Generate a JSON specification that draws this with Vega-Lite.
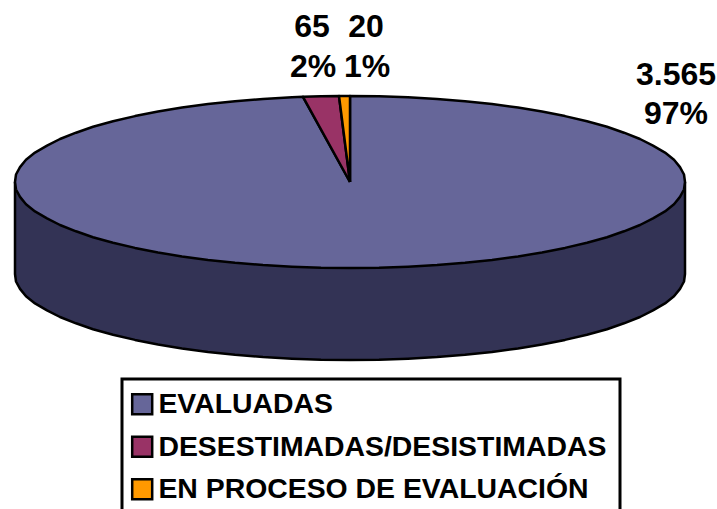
{"$schema":"https://vega.github.io/schema/vega-lite/v6.json","width":717,"height":509,"padding":0,"autosize":{"type":"none"},"background":"white","view":{"stroke":null},
"datasets":{
"side":[{"x":15,"y":182},{"x":15,"y":274},{"x":16,"y":281.5},{"x":20,"y":288.9},{"x":26,"y":296.3},{"x":35,"y":303.4},{"x":47,"y":310.3},{"x":60,"y":317},{"x":76,"y":323.3},{"x":93,"y":329.3},{"x":113,"y":334.8},{"x":135,"y":339.9},{"x":158,"y":344.4},{"x":182,"y":348.5},{"x":208,"y":351.9},{"x":235,"y":354.8},{"x":263,"y":357.1},{"x":292,"y":358.7},{"x":321,"y":359.7},{"x":350,"y":360},{"x":379,"y":359.7},{"x":408,"y":358.7},{"x":437,"y":357.1},{"x":465,"y":354.8},{"x":492,"y":351.9},{"x":518,"y":348.5},{"x":542,"y":344.4},{"x":565,"y":339.9},{"x":587,"y":334.8},{"x":607,"y":329.3},{"x":624,"y":323.3},{"x":640,"y":317},{"x":653,"y":310.3},{"x":665,"y":303.4},{"x":674,"y":296.3},{"x":680,"y":288.9},{"x":684,"y":281.5},{"x":685,"y":274},{"x":685,"y":182}],
"top":[
{"c":"EVALUADAS","x":350,"y":182},{"c":"EVALUADAS","x":350,"y":96},{"c":"EVALUADAS","x":379,"y":96.3},{"c":"EVALUADAS","x":408,"y":97.3},{"c":"EVALUADAS","x":437,"y":98.9},{"c":"EVALUADAS","x":465,"y":101.2},{"c":"EVALUADAS","x":492,"y":104.1},{"c":"EVALUADAS","x":518,"y":107.5},{"c":"EVALUADAS","x":542,"y":111.6},{"c":"EVALUADAS","x":565,"y":116.1},{"c":"EVALUADAS","x":587,"y":121.2},{"c":"EVALUADAS","x":607,"y":126.7},{"c":"EVALUADAS","x":624,"y":132.7},{"c":"EVALUADAS","x":640,"y":139},{"c":"EVALUADAS","x":653,"y":145.7},{"c":"EVALUADAS","x":665,"y":152.6},{"c":"EVALUADAS","x":674,"y":159.7},{"c":"EVALUADAS","x":680,"y":167.1},{"c":"EVALUADAS","x":684,"y":174.5},{"c":"EVALUADAS","x":685,"y":182},{"c":"EVALUADAS","x":684,"y":189.5},{"c":"EVALUADAS","x":680,"y":196.9},{"c":"EVALUADAS","x":674,"y":204.3},{"c":"EVALUADAS","x":665,"y":211.4},{"c":"EVALUADAS","x":653,"y":218.3},{"c":"EVALUADAS","x":640,"y":225},{"c":"EVALUADAS","x":624,"y":231.3},{"c":"EVALUADAS","x":607,"y":237.3},{"c":"EVALUADAS","x":587,"y":242.8},{"c":"EVALUADAS","x":565,"y":247.9},{"c":"EVALUADAS","x":542,"y":252.4},{"c":"EVALUADAS","x":518,"y":256.5},{"c":"EVALUADAS","x":492,"y":259.9},{"c":"EVALUADAS","x":465,"y":262.8},{"c":"EVALUADAS","x":437,"y":265.1},{"c":"EVALUADAS","x":408,"y":266.7},{"c":"EVALUADAS","x":379,"y":267.7},{"c":"EVALUADAS","x":350,"y":268},{"c":"EVALUADAS","x":321,"y":267.7},{"c":"EVALUADAS","x":292,"y":266.7},{"c":"EVALUADAS","x":263,"y":265.1},{"c":"EVALUADAS","x":235,"y":262.8},{"c":"EVALUADAS","x":208,"y":259.9},{"c":"EVALUADAS","x":182,"y":256.5},{"c":"EVALUADAS","x":158,"y":252.4},{"c":"EVALUADAS","x":135,"y":247.9},{"c":"EVALUADAS","x":113,"y":242.8},{"c":"EVALUADAS","x":93,"y":237.3},{"c":"EVALUADAS","x":76,"y":231.3},{"c":"EVALUADAS","x":60,"y":225},{"c":"EVALUADAS","x":47,"y":218.3},{"c":"EVALUADAS","x":35,"y":211.4},{"c":"EVALUADAS","x":26,"y":204.3},{"c":"EVALUADAS","x":20,"y":196.9},{"c":"EVALUADAS","x":16,"y":189.5},{"c":"EVALUADAS","x":15,"y":182},{"c":"EVALUADAS","x":16,"y":174.5},{"c":"EVALUADAS","x":20,"y":167.1},{"c":"EVALUADAS","x":26,"y":159.7},{"c":"EVALUADAS","x":35,"y":152.6},{"c":"EVALUADAS","x":47,"y":145.7},{"c":"EVALUADAS","x":60,"y":139},{"c":"EVALUADAS","x":76,"y":132.7},{"c":"EVALUADAS","x":93,"y":126.7},{"c":"EVALUADAS","x":113,"y":121.2},{"c":"EVALUADAS","x":135,"y":116.1},{"c":"EVALUADAS","x":158,"y":111.6},{"c":"EVALUADAS","x":182,"y":107.5},{"c":"EVALUADAS","x":208,"y":104.1},{"c":"EVALUADAS","x":235,"y":101.2},{"c":"EVALUADAS","x":263,"y":98.9},{"c":"EVALUADAS","x":292,"y":97.3},{"c":"EVALUADAS","x":303,"y":96.8},{"c":"EVALUADAS","x":350,"y":182},
{"c":"DESESTIMADAS/DESISTIMADAS","x":350,"y":182},{"c":"DESESTIMADAS/DESISTIMADAS","x":303,"y":96.8},{"c":"DESESTIMADAS/DESISTIMADAS","x":321,"y":96.3},{"c":"DESESTIMADAS/DESISTIMADAS","x":339,"y":96},{"c":"DESESTIMADAS/DESISTIMADAS","x":350,"y":182},
{"c":"EN PROCESO DE EVALUACIÓN","x":350,"y":182},{"c":"EN PROCESO DE EVALUACIÓN","x":339,"y":96},{"c":"EN PROCESO DE EVALUACIÓN","x":350,"y":96},{"c":"EN PROCESO DE EVALUACIÓN","x":350,"y":182}
],
"labels":[{"t":"3.565","x":676,"y":75},{"t":"97%","x":676,"y":114},{"t":"65","x":312,"y":27},{"t":"2%","x":313,"y":67},{"t":"20","x":366,"y":27},{"t":"1%","x":367,"y":67}],
"box":[{"x":122,"x2":620,"y":379,"y2":515}]
},
"layer":[
{"data":{"name":"box"},"mark":{"type":"rect","fill":"white","stroke":"black","strokeWidth":3},"encoding":{"x":{"field":"x","type":"quantitative","scale":{"domain":[0,717]},"axis":null},"x2":{"field":"x2"},"y":{"field":"y","type":"quantitative","scale":{"domain":[509,0]},"axis":null},"y2":{"field":"y2"}}},
{"data":{"name":"side"},"mark":{"type":"line","fill":"#333355","stroke":"black","strokeWidth":2.5,"strokeJoin":"round"},"encoding":{"x":{"field":"x","type":"quantitative","scale":{"domain":[0,717]},"axis":null},"y":{"field":"y","type":"quantitative","scale":{"domain":[509,0]},"axis":null},"order":{"value":null}}},
{"data":{"name":"top"},"mark":{"type":"line","stroke":"black","strokeWidth":2.5,"strokeJoin":"round"},"encoding":{"x":{"field":"x","type":"quantitative","scale":{"domain":[0,717]},"axis":null},"y":{"field":"y","type":"quantitative","scale":{"domain":[509,0]},"axis":null},"order":{"value":null},"fill":{"field":"c","type":"nominal","scale":{"domain":["EVALUADAS","DESESTIMADAS/DESISTIMADAS","EN PROCESO DE EVALUACIÓN"],"range":["#666699","#993366","#FF9900"]},"legend":{"title":null,"orient":"none","legendX":128,"legendY":390,"symbolType":"square","symbolSize":400,"symbolStrokeColor":"black","symbolStrokeWidth":2.5,"labelFont":"Liberation Sans","labelFontWeight":"bold","labelFontSize":28.4,"labelColor":"black","labelOffset":2,"rowPadding":11.5,"labelLimit":600,"padding":0}}}},
{"data":{"name":"labels"},"mark":{"type":"text","font":"Liberation Sans","fontWeight":"bold","fontSize":32,"color":"black","align":"center","baseline":"middle"},"encoding":{"x":{"field":"x","type":"quantitative","scale":{"domain":[0,717]},"axis":null},"y":{"field":"y","type":"quantitative","scale":{"domain":[509,0]},"axis":null},"text":{"field":"t"}}}
]}
